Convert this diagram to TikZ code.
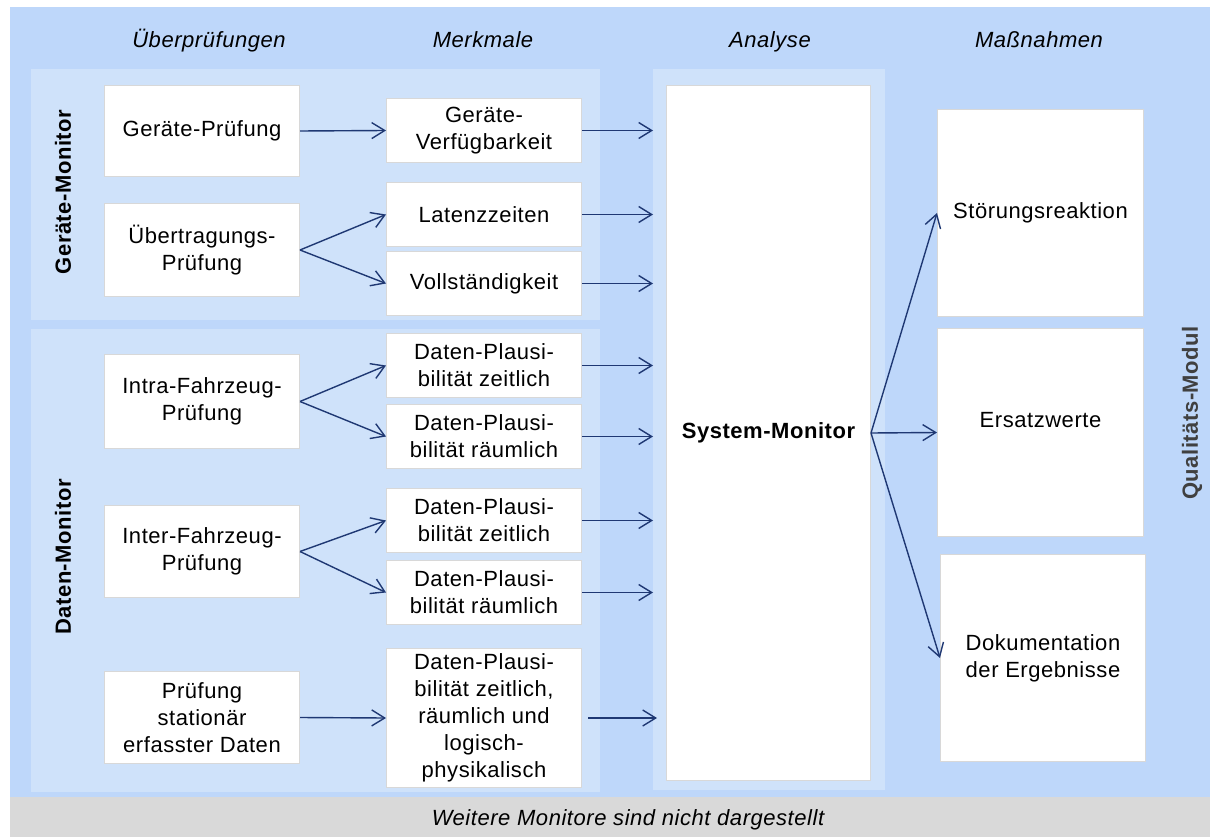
\documentclass[tikz,border=0pt]{standalone}
\usepackage{fontspec}
\setmainfont{Liberation Sans}[LetterSpace=2.5]
\usetikzlibrary{arrows.meta,calc}

\definecolor{outerblue}{RGB}{190,215,250}
\definecolor{panelblue}{RGB}{207,226,250}
\definecolor{bargray}{RGB}{217,217,217}
\definecolor{boxedge}{RGB}{216,216,216}
\definecolor{flow}{RGB}{31,56,115}
\definecolor{modgray}{RGB}{64,64,64}

\tikzset{
  box/.style={draw=boxedge, line width=1pt, fill=white, align=center,
    inner sep=0pt, anchor=north west, font=\fontsize{22}{27}\selectfont},
  panel/.style={fill=panelblue, inner sep=0pt, anchor=north west},
  flowarrow/.style={draw=flow, line width=1.4pt,
    -{Straight Barb[length=13pt,width=16pt,line width=1.4pt]}},
  header/.style={font=\fontsize{22}{27}\selectfont\itshape, anchor=base},
  sidelabel/.style={font=\fontsize{22}{27}\selectfont\bfseries, rotate=90},
}

% box given by its corners: name, x1, y1, x2, y2, text
\newcommand\cornerbox[6]{%
  \node[box, minimum width={(#4-#2)*1pt}, minimum height={(#5-#3)*1pt}]
    (#1) at (#2,#3) {#6};}

\begin{document}
\begin{tikzpicture}[x=1pt,y=-1pt]
\useasboundingbox (0,0) rectangle (1210,837);

% background areas
\fill[outerblue] (10,7) rectangle (1210,797);
\fill[bargray] (10,797) rectangle (1210,837);
\fill[panelblue] (31,69) rectangle (600,320);
\fill[panelblue] (31,329) rectangle (600,792);
\node[panel, minimum width=232pt, minimum height=721pt] (ana) at (653,69) {};

% column headers
\node[header] (hcheck) at (209,48) {Überprüfungen};
\node[header] (hfeat) at (483,48) {Merkmale};
\node[header] (hana) at (770,48) {Analyse};
\node[header] (hact) at (1039,48) {Maßnahmen};

% monitor labels
\node[sidelabel] (lgeraete) at (63,192) {Geräte-Monitor};
\node[sidelabel] (ldaten) at (63,557) {Daten-Monitor};
\node[sidelabel, text=modgray] (lmodul) at (1192,413) {Qualitäts-Modul};

% checks
\cornerbox{gp}{104}{85}{299}{176}{Geräte-Prüfung}
\cornerbox{up}{104}{203}{299}{296}{Übertragungs-\\Prüfung}
\cornerbox{intra}{104}{354}{299}{448}{Intra-Fahrzeug-\\Prüfung}
\cornerbox{inter}{104}{505}{299}{597}{Inter-Fahrzeug-\\Prüfung}
\cornerbox{stat}{104}{671}{299}{763}{Prüfung\\stationär\\erfasster Daten}

% features
\cornerbox{m1}{386}{98}{581}{162}{Geräte-\\Verfügbarkeit}
\cornerbox{m2}{386}{182}{581}{246}{Latenzzeiten}
\cornerbox{m3}{386}{251}{581}{315}{Vollständigkeit}
\cornerbox{m4}{386}{333}{581}{397}{Daten-Plausi-\\bilität zeitlich}
\cornerbox{m5}{386}{404}{581}{468}{Daten-Plausi-\\bilität räumlich}
\cornerbox{m6}{386}{488}{581}{552}{Daten-Plausi-\\bilität zeitlich}
\cornerbox{m7}{386}{560}{581}{624}{Daten-Plausi-\\bilität räumlich}
\cornerbox{m8}{386}{648}{581}{787}{Daten-Plausi-\\bilität zeitlich,\\räumlich und\\logisch-\\physikalisch}

% analysis
\cornerbox{sys}{666}{85}{870}{780}{\bfseries System-Monitor}

% measures
\cornerbox{st}{937}{109}{1143}{316}{Störungsreaktion}
\node[box, minimum width=206pt, minimum height=208pt,
  label={[name=eztext, font=\fontsize{22}{27}\selectfont, yshift=12pt]center:Ersatzwerte}]
  (ez) at (937,328) {};
\cornerbox{dok}{940}{554}{1145}{761}{Dokumentation\\der Ergebnisse}

% footer
\node[font=\fontsize{22}{27}\selectfont\itshape] (note) at (628,820) {Weitere Monitore sind nicht dargestellt};

% checks -> features
\draw[flowarrow] (gp.east) -- (m1.west);
\draw[flowarrow] (up.east) -- (m2.west);
\draw[flowarrow] (up.east) -- (m3.west);
\draw[flowarrow] (intra.east) -- (m4.west);
\draw[flowarrow] (intra.east) -- (m5.west);
\draw[flowarrow] (inter.east) -- (m6.west);
\draw[flowarrow] (inter.east) -- (m7.west);
\draw[flowarrow] (stat.east) -- (m8.west);

% features -> analysis
\foreach \m in {m1,m2,m3,m4,m5,m6,m7}
  \draw[flowarrow] (\m.east) -- (\m.east -| ana.west);
\draw[flowarrow, shorten <=6pt] (m8.east) -- ($(m8.east -| ana.west)+(4,0)$);

% analysis -> measures
\draw[flowarrow] (sys.east) -- (st.west);
\draw[flowarrow] (sys.east) -- (ez.west);
\draw[flowarrow] (sys.east) -- (dok.west);

\end{tikzpicture}
\end{document}
